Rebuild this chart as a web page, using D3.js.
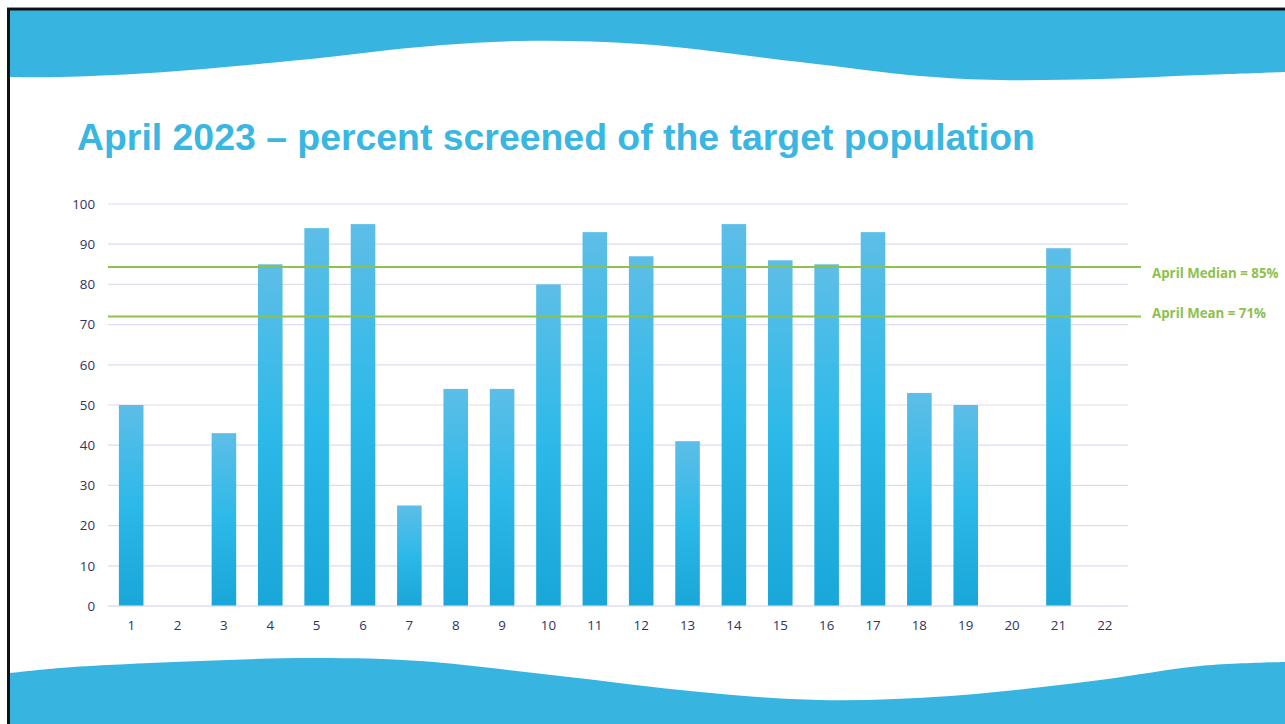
<!doctype html>
<html lang="en">
<head>
  <meta charset="utf-8">
  <title>April 2023 - percent screened</title>
  <script src="https://cdn.jsdelivr.net/npm/d3@7"></script>
  <style>
    body { margin: 0; background: #fff; }
    svg { display: block; }
    .tick text { font-family: "Open Sans", "DejaVu Sans", sans-serif; font-size: 13.3px; fill: #2f3264; }
  </style>
</head>
<body>
<div id="chart"></div>
<script>

// chart data
var sites = ["1","2","3","4","5","6","7","8","9","10","11","12","13","14","15","16","17","18","19","20","21","22"];
var pctScreened = [50, 0, 43, 85, 94, 95, 25, 54, 54, 80, 93, 87, 41, 95, 86, 85, 93, 53, 50, 0, 89, 0];
var yTicks = [0, 10, 20, 30, 40, 50, 60, 70, 80, 90, 100];
var refValues = [84.3, 72];
var refLabels = ["April Median = 85%", "April Mean = 71%"];

var W = 1285, H = 724;
var svg = d3.select("#chart").append("svg").attr("width", W).attr("height", H);

// bar gradient
var grad = svg.append("defs").append("linearGradient")
    .attr("id", "barGrad").attr("x1", 0).attr("y1", 0).attr("x2", 0).attr("y2", 1);
grad.append("stop").attr("offset", "0%").attr("stop-color", "#5dbee7");
grad.append("stop").attr("offset", "50%").attr("stop-color", "#2cb9e9");
grad.append("stop").attr("offset", "100%").attr("stop-color", "#19a6d8");

// slide background: frame + waves
svg.append("rect").attr("x", 7).attr("y", 7).attr("width", W).attr("height", 1.5).attr("fill", "#37b5e0");
svg.append("rect").attr("x", 10).attr("y", 10).attr("width", W - 10).attr("height", H - 10).attr("fill", "#fff");

var topWave = [[10, 77], [60, 77], [150, 73], [300, 60], [420, 47], [520, 41], [640, 44], [800, 62], [920, 76], [1000, 80], [1100, 79], [1200, 75], [1285, 72]];
var botWave = [[10, 673], [60, 668], [150, 663], [311, 658], [420, 661], [560, 676], [700, 692], [820, 700], [950, 696], [1100, 680], [1200, 666], [1285, 662]];
var curve = d3.line().curve(d3.curveCatmullRom);

svg.append("path")
    .attr("d", "M10,10 L1285,10 L1285,72 " + curve(topWave.slice().reverse()).replace(/^M/, "L") + " Z")
    .attr("fill", "#37b5e0");
svg.append("path")
    .attr("d", curve(botWave) + " L1285,724 L10,724 Z")
    .attr("fill", "#37b5e0");

// black frame lines on top and left
svg.append("rect").attr("x", 7).attr("y", 8).attr("width", W - 7).attr("height", 2.5).attr("fill", "#111");
svg.append("rect").attr("x", 7).attr("y", 8).attr("width", 3).attr("height", H - 8).attr("fill", "#111");

// title
svg.append("text")
    .attr("x", 77).attr("y", 150)
    .attr("font-family", "Liberation Sans, Arial, sans-serif")
    .attr("font-weight", "bold")
    .attr("font-size", 37.4)
    .attr("fill", "#39b6e2")
    .text("April 2023 \u2013 percent screened of the target population");

// scales
var margin = { left: 108, right: 1128, top: 204, bottom: 606 };
var x = d3.scaleBand().domain(sites).range([margin.left, margin.right]).paddingInner(0.47).paddingOuter(0.235);
var y = d3.scaleLinear().domain([0, 100]).range([margin.bottom, margin.top]);

// gridlines
svg.append("g").selectAll("line").data(yTicks.filter(function(d){ return d > 0; })).enter().append("line")
    .attr("x1", margin.left).attr("x2", margin.right)
    .attr("y1", function(d){ return y(d); }).attr("y2", function(d){ return y(d); })
    .attr("stroke", "#dedcf0").attr("stroke-width", 1.2);

// bars
svg.append("g").selectAll("rect").data(pctScreened).enter().append("rect")
    .attr("x", function(d, i){ return x(sites[i]); })
    .attr("width", x.bandwidth())
    .attr("y", function(d){ return y(d); })
    .attr("height", function(d){ return y(0) - y(d); })
    .attr("fill", "url(#barGrad)");

// axes
var yAxis = svg.append("g").attr("transform", "translate(" + margin.left + ",0)")
    .call(d3.axisLeft(y).tickValues(yTicks).tickSize(0).tickPadding(13));
yAxis.select(".domain").remove();

var xAxis = svg.append("g").attr("transform", "translate(0," + margin.bottom + ")")
    .call(d3.axisBottom(x).tickSize(0).tickPadding(15));
xAxis.select(".domain").remove();

svg.append("line")
    .attr("x1", margin.left).attr("x2", margin.right)
    .attr("y1", y(0)).attr("y2", y(0))
    .attr("stroke", "#d6d6ee").attr("stroke-opacity", 0.8).attr("stroke-width", 1.5);

// median / mean reference lines (labels sit a little off their lines, as on the slide)
var labelShift = [11, 1];
var refs = svg.append("g").selectAll("g").data(refValues).enter().append("g");
refs.append("line")
    .attr("x1", margin.left).attr("x2", 1141)
    .attr("y1", function(d){ return y(d); }).attr("y2", function(d){ return y(d); })
    .attr("stroke", "#8dc14c").attr("stroke-width", 2);
refs.append("text")
    .attr("x", 1152)
    .attr("y", function(d, i){ return y(d) + labelShift[i]; })
    .attr("font-family", "Open Sans, sans-serif")
    .attr("font-weight", "bold")
    .attr("font-size", 13.3)
    .attr("fill", "#8dc14c")
    .text(function(d, i){ return refLabels[i]; });

</script>
</body>
</html>
